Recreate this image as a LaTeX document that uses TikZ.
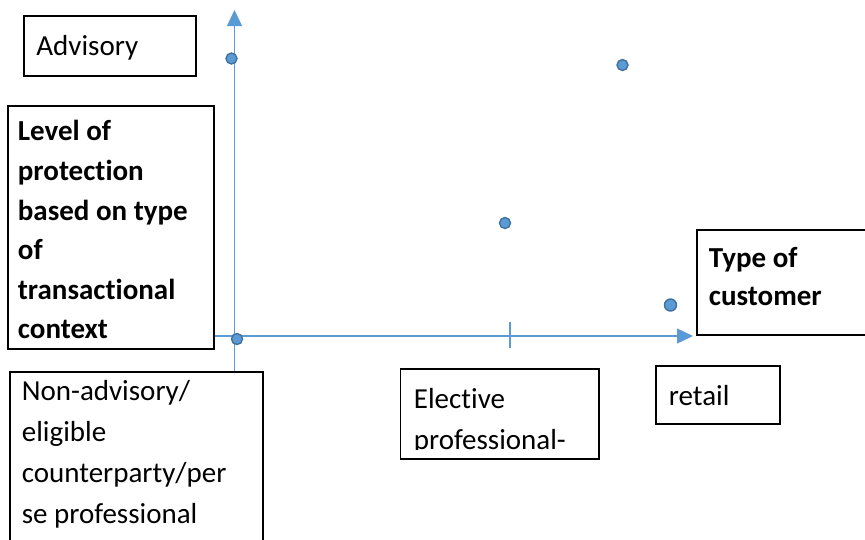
\documentclass[tikz,border=0pt]{standalone}
\usepackage{fontspec}
\setmainfont{Carlito}[Ligatures=NoCommon]
\usetikzlibrary{arrows.meta,positioning}
\definecolor{cA}{HTML}{5B9BD5}
\definecolor{cB}{HTML}{41719C}
\tikzset{
  box/.style={draw=black,line width=1.8pt,fill=white,anchor=north west,
              align=flush left,inner ysep=0pt,inner xsep=12pt,
              font=\fontsize{29}{41}\selectfont},
  head/.style={box,font=\fontsize{29}{39.6}\selectfont\bfseries},
  dot/.style={circle,fill=cA,draw=cB,line width=1.4pt,inner sep=0pt,
              minimum size=11pt},
  axisarrow/.style={-{Triangle[length=16pt,width=15pt]},line width=1.4pt,cA},
}
\begin{document}
\begin{tikzpicture}[x=1pt,y=-1pt]
  \useasboundingbox (0,0) rectangle (865,539);
  % text boxes
  \node[box,inner xsep=12.5pt,text width=147pt,text height=40pt,text depth=20pt]
    (advisory) at (23,15) {Advisory};
  \node[head,inner xsep=10pt,text width=186pt,text height=35pt,text depth=208pt]
    (level) at (7,105) {Level of\\protection\\based on type\\of\\transactional\\context};
  \node[head,font=\fontsize{29}{38}\selectfont\bfseries,text width=176pt,
    text height=38pt,text depth=67pt] (type) at (696,229) {Type of\\customer};
  \node[box,text width=229pt,text height=29pt,text depth=250pt]
    (nonadv) at (9,371) {Non-advisory/\\eligible\\counterparty/per\\se professional};
  \begin{scope}
    \clip (395,360) rectangle (600,449);
    \node[box,draw=none,inner xsep=12.5pt,text width=171.5pt,text height=39pt,
      text depth=49pt] (elective) at (400.5,369) {Elective\\professional-};
  \end{scope}
  \draw[black,line width=1.8pt] (elective.north west) rectangle (elective.south east);
  \node[box,inner xsep=13pt,text width=98pt,text height=40pt,text depth=18pt]
    (retail) at (655,365) {retail};
  % axes
  \coordinate (origin) at (234.5,336);
  \coordinate (ytip) at (234.5,10);
  \coordinate (xtip) at (693,336);
  \coordinate (tick) at (510,336);
  \draw[axisarrow] (origin |- nonadv.north) -- (ytip);
  \draw[axisarrow] (origin -| level.east) -- (xtip);
  \draw[cA,line width=1.4pt] ([yshift=14pt]tick) -- ([yshift=-12pt]tick);
  % points
  \node[dot] (p1) at (231.5,58.5) {};
  \node[dot] (p2) at (237,339) {};
  \node[dot] (p3) at (622.5,65) {};
  \node[dot] (p4) at (505,223) {};
  \node[dot,minimum width=10pt,minimum height=12pt] (p5) at (670.5,305) {};
\end{tikzpicture}
\end{document}
